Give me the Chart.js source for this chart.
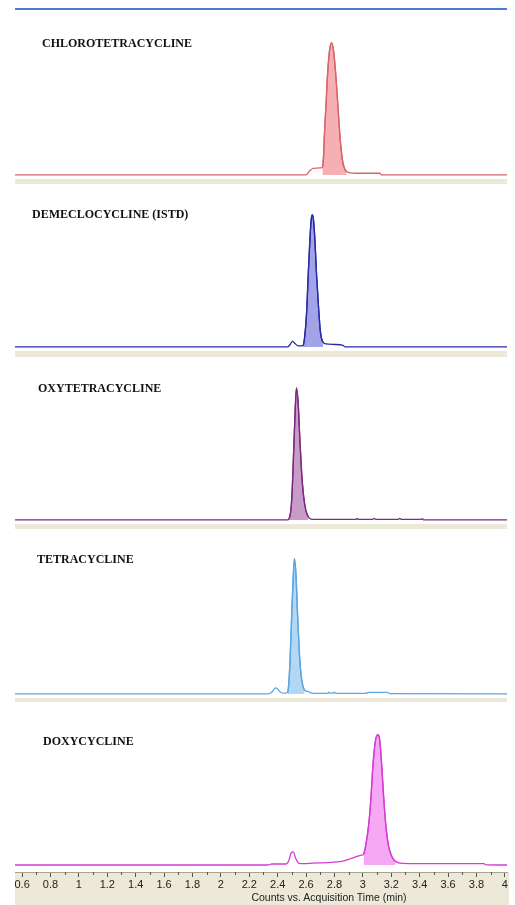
<!DOCTYPE html>
<html>
<head>
<meta charset="utf-8">
<title>Tetracyclines - extracted ion chromatograms</title>
<script src="https://cdn.jsdelivr.net/npm/chart.js@4.4.1/dist/chart.umd.min.js"></script>
<style>
  html, body { margin: 0; padding: 0; background: #fff; }
  body { width: 515px; height: 905px; position: relative; overflow: hidden; }
  canvas { position: absolute; left: 0; }
  .band { position: absolute; left: 15px; width: 492px; background: #ECE9D8; }
  .name {
    position: absolute; line-height: 12px; white-space: nowrap; color: #111;
    font: bold 12px "Liberation Serif", "Times New Roman", serif;
  }
  #topline { position: absolute; left: 15px; width: 492px; top: 8px; height: 2px; background: #4C7ED0; }
  #xtitle {
    position: absolute; left: 329px; top: 891px; line-height: 12px; transform: translateX(-50%);
    white-space: nowrap; color: #222;
    font: 10.5px "Liberation Sans", Arial, sans-serif;
  }
</style>
</head>
<body>

<div id="topline"></div>

<canvas id="c0" width="515" height="169" style="top:10px"></canvas>
<div class="band" style="top:179px;height:5px"></div>
<canvas id="c1" width="515" height="167" style="top:184px"></canvas>
<div class="band" style="top:351px;height:6px"></div>
<canvas id="c2" width="515" height="167" style="top:357px"></canvas>
<div class="band" style="top:524px;height:5px"></div>
<canvas id="c3" width="515" height="169" style="top:529px"></canvas>
<div class="band" style="top:698px;height:4px"></div>
<canvas id="c4" width="515" height="203" style="top:702px"></canvas>

<div class="name" id="n0" style="left:42px;top:36px"></div>
<div class="name" id="n1" style="left:32px;top:207px"></div>
<div class="name" id="n2" style="left:38px;top:381px"></div>
<div class="name" id="n3" style="left:37px;top:552px"></div>
<div class="name" id="n4" style="left:43px;top:734px"></div>

<div id="xtitle"></div>

<script>
/* ===============================
   DATA
================================ */

const COMPOUNDS = [
  "CHLOROTETRACYCLINE",
  "DEMECLOCYCLINE (ISTD)",
  "OXYTETRACYCLINE",
  "TETRACYCLINE",
  "DOXYCYCLINE"
];

const X_TICKS = ["0.6", "0.8", "1", "1.2", "1.4", "1.6", "1.8", "2", "2.2", "2.4",
                 "2.6", "2.8", "3", "3.2", "3.4", "3.6", "3.8", "4"];
const X_TITLE = "Counts vs. Acquisition Time (min)";

// acquisition time (min) / relative counts
const CHLORO_TIME = [0.55, 2.60, 2.625, 2.65, 2.70, 2.715, 2.722, 2.73, 2.74, 2.752, 2.766, 2.78,
                     2.794, 2.808, 2.824, 2.84, 2.856, 2.87, 2.885, 2.95, 3.12, 3.13, 4.015];
const CHLORO_COUNTS = [0, 0, 2.5, 4, 4.2, 4.5, 10, 26, 42, 62, 76, 80,
                       75, 62, 42, 22, 9, 4, 2, 1, 1, 0, 0];
const CHLORO_PEAK = [2.715, 2.885];

const DEMECLO_TIME = [0.55, 2.47, 2.49, 2.505, 2.52, 2.545, 2.58, 2.59, 2.603, 2.615, 2.627, 2.636,
                      2.644, 2.652, 2.662, 2.674, 2.688, 2.70, 2.712, 2.72, 2.73, 2.80, 2.86, 2.875, 4.015];
const DEMECLO_COUNTS = [0, 0, 1.8, 3.6, 2.2, 0.6, 0.8, 6, 20, 44, 66, 78,
                        81, 78, 66, 44, 24, 10, 4, 3, 2, 1.5, 1, 0, 0];
const DEMECLO_PEAK = [2.58, 2.72];

const OXY_TIME = [0.55, 2.47, 2.48, 2.49, 2.50, 2.51, 2.52, 2.532, 2.544, 2.556, 2.568, 2.582,
                  2.598, 2.615, 2.625, 2.645, 2.95, 2.96, 2.97, 3.07, 3.08, 3.09, 3.25, 3.26, 3.27,
                  3.41, 3.42, 3.43, 4.015];
const OXY_COUNTS = [0, 0, 0.8, 4, 14, 36, 60, 81, 72, 50, 30, 15,
                    6, 2, 1, 0.3, 0.3, 0.9, 0.3, 0.4, 1, 0.4, 0.4, 1, 0.4,
                    0.3, 0.8, 0, 0];
const OXY_PEAK = [2.48, 2.615];

const TETRA_TIME = [0.55, 2.33, 2.36, 2.385, 2.40, 2.42, 2.45, 2.47, 2.477, 2.487, 2.498, 2.508,
                    2.518, 2.529, 2.54, 2.552, 2.564, 2.577, 2.59, 2.61, 2.64, 2.66, 2.75, 2.76,
                    2.77, 2.79, 2.80, 2.81, 3.02, 3.04, 3.17, 3.19, 4.015];
const TETRA_COUNTS = [0, 0, 1.2, 3.6, 2.8, 1, 0.4, 0.8, 5, 20, 46, 68,
                      82, 72, 48, 26, 12, 5, 2.2, 1.5, 0.5, 0.3, 0.3, 1,
                      0.4, 0.4, 1, 0.3, 0.3, 0.9, 0.9, 0.2, 0];
const TETRA_PEAK = [2.47, 2.59];

const DOXY_TIME = [0.55, 2.33, 2.36, 2.46, 2.48, 2.495, 2.51, 2.525, 2.545, 2.58, 2.65, 2.75,
                   2.85, 2.90, 2.95, 2.99, 3.005, 3.02, 3.04, 3.056, 3.07, 3.088, 3.105, 3.118,
                   3.132, 3.146, 3.162, 3.18, 3.20, 3.218, 3.23, 3.26, 3.40, 3.70, 3.85, 3.87, 4.015];
const DOXY_COUNTS = [0, 0, 0.6, 0.6, 3, 7.5, 8, 4.5, 1.2, 0.8, 1.2, 1.5,
                     2.2, 3.5, 5, 6, 6.5, 12, 24, 40, 60, 76, 80, 77,
                     62, 42, 24, 12, 6, 3.2, 2.2, 1.2, 0.8, 0.8, 0.8, 0.1, 0];
const DOXY_PEAK = [3.005, 3.23];

const TIMES = [CHLORO_TIME, DEMECLO_TIME, OXY_TIME, TETRA_TIME, DOXY_TIME];
const COUNTS = [CHLORO_COUNTS, DEMECLO_COUNTS, OXY_COUNTS, TETRA_COUNTS, DOXY_COUNTS];
const PEAKS = [CHLORO_PEAK, DEMECLO_PEAK, OXY_PEAK, TETRA_PEAK, DOXY_PEAK];

/* ===============================
   STYLE
================================ */

const LINE_COLORS = ["#D9646A", "#2B2BA6", "#7C2C7C", "#5DA7DE", "#D23ED2"];
const FILL_COLORS = ["#F6B0B3", "#A3A3E8", "#C99BC9", "#B3D8F3", "#F6A8F4"];
const BEIGE = "#ECE9D8";
const AXIS_FONT = "'Liberation Sans', Arial, sans-serif";

/* ===============================
   AXIS BAND (last panel only)
================================ */

const axisBand = {
  id: "axisBand",
  beforeDraw(chart) {
    const { ctx, chartArea: a } = chart;
    ctx.save();
    ctx.fillStyle = BEIGE;
    ctx.fillRect(a.left, a.bottom, a.right - a.left + 2, chart.height - a.bottom);
    ctx.restore();
  },
  afterDraw(chart) {
    // short ticks halfway between labelled ones
    const s = chart.scales.x;
    const ctx = chart.ctx;
    ctx.save();
    ctx.strokeStyle = "#555";
    ctx.lineWidth = 1;
    for (let i = 0; i < X_TICKS.length - 1; i++) {
      const mid = (parseFloat(X_TICKS[i]) + parseFloat(X_TICKS[i + 1])) / 2;
      const px = Math.round(s.getPixelForValue(mid)) + 0.5;
      ctx.beginPath();
      ctx.moveTo(px, s.top);
      ctx.lineTo(px, s.top + 3);
      ctx.stroke();
    }
    ctx.restore();
  }
};

/* ===============================
   PANELS
================================ */

function makePanel(i) {
  const last = i === TIMES.length - 1;
  const trace = TIMES[i].map((t, j) => ({ x: t, y: COUNTS[i][j] }));
  const win = PEAKS[i];
  const peak = trace.filter(p => p.x >= win[0] && p.x <= win[1]);

  const common = {
    borderColor: LINE_COLORS[i],
    borderWidth: 1.3,
    pointRadius: 0,
    cubicInterpolationMode: "monotone"
  };

  const xScale = { type: "linear", min: 0.55, max: 4.015, display: false };
  if (last) {
    Object.assign(xScale, {
      display: true,
      afterBuildTicks: s => { s.ticks = X_TICKS.map(l => ({ value: parseFloat(l) })); },
      afterFit: s => { s.height = 33; },
      ticks: {
        autoSkip: false,
        maxRotation: 0,
        padding: 1,
        color: "#222",
        font: { family: AXIS_FONT, size: 11 },
        callback: (v, idx) => X_TICKS[idx]
      },
      grid: { drawOnChartArea: false, tickLength: 5, tickColor: "#555" },
      border: { display: true, color: "#A8A490" }
    });
  }

  new Chart(document.getElementById("c" + i), {
    type: "line",
    data: {
      datasets: [
        { ...common, data: trace, fill: false },
        { ...common, data: peak, fill: "origin", backgroundColor: FILL_COLORS[i] }
      ]
    },
    options: {
      responsive: false,
      animation: false,
      events: [],
      layout: { padding: { left: 15, right: 8, top: 0, bottom: 0 }, autoPadding: false },
      plugins: { legend: { display: false }, tooltip: { enabled: false } },
      scales: {
        x: xScale,
        y: { min: last ? -4.3 : -2.5, max: 100, display: false }
      }
    },
    plugins: last ? [axisBand] : []
  });

  document.getElementById("n" + i).textContent = COMPOUNDS[i];
}

for (let i = 0; i < TIMES.length; i++) makePanel(i);
document.getElementById("xtitle").textContent = X_TITLE;
</script>
</body>
</html>
